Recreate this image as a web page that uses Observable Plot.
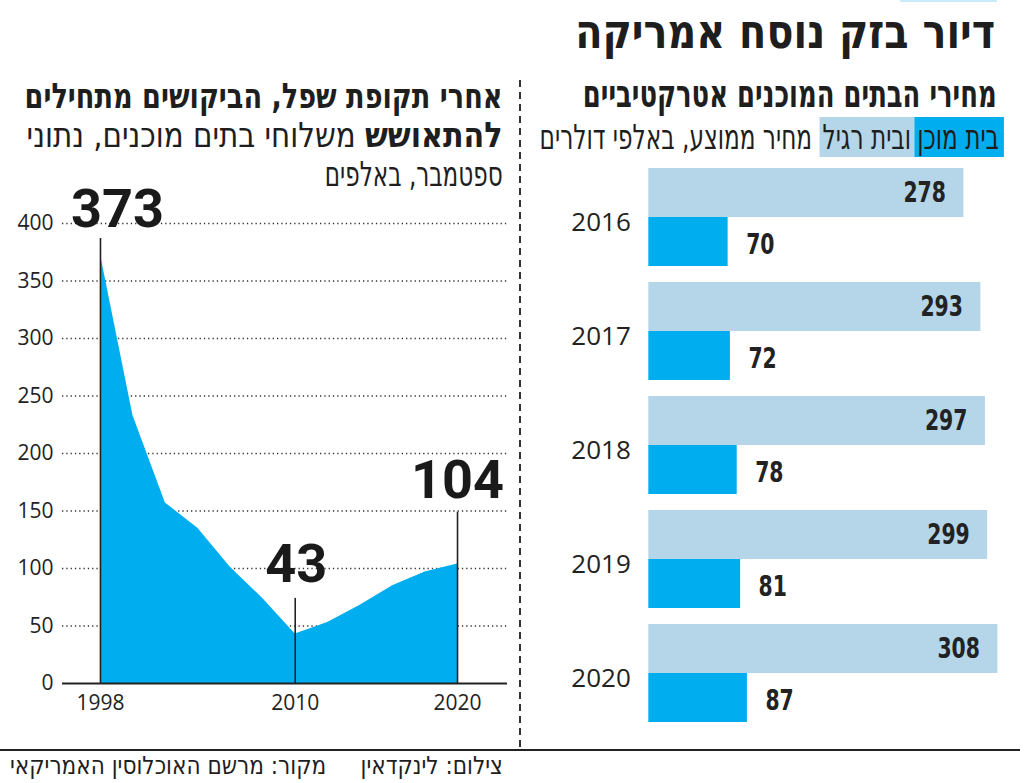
<!DOCTYPE html>
<html lang="he">
<head>
<meta charset="utf-8">
<script src="https://cdn.jsdelivr.net/npm/d3@7"></script>
<script src="https://cdn.jsdelivr.net/npm/@observablehq/plot@0.6"></script>
<style>
  html, body { margin: 0; padding: 0; background: #fff; }
  body { width: 1024px; height: 783px; position: relative; overflow: hidden; }
  .he { font-family: "Liberation Sans Narrow", "DejaVu Sans Condensed", "Liberation Sans", sans-serif; color: #1e1e1e; direction: rtl; position: absolute; white-space: nowrap; text-align: right; transform-origin: right center; }
  .abs { position: absolute; }
  #left, #right { position: absolute; }
  #left svg, #right svg { overflow: visible; }
</style>
</head>
<body>
<div class="abs" style="left:900px;top:0;width:97px;height:2px;background:#c8ecfa"></div>

<div class="he fit" data-w="420" style="right:29px;top:6px;font-size:47px;font-weight:bold;line-height:52px">דיור בזק נוסח אמריקה</div>

<div class="he fit" data-w="414" style="right:27px;top:72px;font-size:38px;font-weight:bold;line-height:44px">מחירי הבתים המוכנים אטרקטיביים</div>
<div class="he fit" data-w="464" style="right:20px;top:117px;font-size:34px;line-height:40px"><span style="background:#00aeef;padding:0 6px 0 4px">בית מוכן</span><span style="background:#b4d6e8;padding:0 4px">ובית רגיל</span> מחיר ממוצע, באלפי דולרים</div>

<div class="he fit" data-w="478" style="right:521px;top:77px;font-size:35px;font-weight:bold;line-height:38px">אחרי תקופת שפל, הביקושים מתחילים</div>
<div class="he fit" data-w="476" style="right:521px;top:116px;font-size:34px;line-height:38px"><b style="font-size:35px">להתאושש</b> משלוחי בתים מוכנים, נתוני</div>
<div class="he fit" data-w="178" style="right:521px;top:155px;font-size:34px;line-height:38px">ספטמבר, באלפים</div>

<div id="left" style="left:0;top:170px"></div>
<div id="right" style="left:540px;top:160px"></div>

<div class="abs" style="left:519px;top:80px;width:2px;height:670px;background:repeating-linear-gradient(to bottom,#333 0 7px,transparent 7px 12px)"></div>
<div class="abs" style="left:0;top:749px;width:1020px;height:2px;background:#222"></div>
<div class="he fit" data-w="493" style="right:521px;top:752px;font-size:25px;line-height:28px">צילום: לינקדאין&nbsp;&nbsp;&nbsp;&nbsp; מקור: מרשם האוכלוסין האמריקאי</div>

<script>
// ---- Left chart data: ready-made home shipments (September, thousands)
const years = [1998, 2000, 2002, 2004, 2006, 2008, 2010, 2012, 2014, 2016, 2018, 2020];
const shipments = [373, 233, 157, 135, 101, 74, 43, 53, 68, 85, 97, 104];
const highlightYears = [1998, 2010, 2020];
const yTicks = [0, 50, 100, 150, 200, 250, 300, 350, 400];
const xTicks = [1998, 2010, 2020];

// ---- Right chart data: average price, thousands of dollars
const barYears = ["2016", "2017", "2018", "2019", "2020"];
const regularPrices = [278, 293, 297, 299, 308];
const readyPrices = [70, 72, 78, 81, 87];
const seriesKeys = ["regular", "ready"];

// ---- styling
const BLUE = "#00aeef";
const LIGHT = "#b4d6e8";
const numFont = "Roboto, 'DejaVu Sans', sans-serif";
const narrowFont = "'Liberation Sans Narrow', 'DejaVu Sans Condensed', sans-serif";
const tickFont = "'Open Sans', 'DejaVu Sans', sans-serif";
const leaderAbove = {1998: 14, 2010: 31, 2020: 45};
const labelAbove = {1998: 24, 2010: 45, 2020: 57};
const labelDx = {1998: 17, 2010: 1, 2020: 0};

const series = years.map((year, i) => ({year, value: shipments[i]}));
const highlights = series.filter(d => highlightYears.includes(d.year));

const left = Plot.plot({
  width: 525,
  height: 550,
  marginLeft: 62,
  marginRight: 18,
  marginTop: 53,
  marginBottom: 37,
  style: {fontFamily: tickFont, fontSize: "21px", color: "#222", background: "transparent"},
  x: {domain: [1995.66, 2023.08], ticks: xTicks, tickFormat: d => String(d), tickSize: 0, tickPadding: 12, label: null},
  y: {domain: [0, 400], ticks: yTicks, tickSize: 0, tickPadding: 9, label: null},
  marks: [
    Plot.ruleY(yTicks.filter(d => d > 0), {stroke: "#333", strokeWidth: 1.3, strokeDasharray: "1.3,3"}),
    Plot.areaY(series, {x: "year", y: "value", fill: BLUE}),
    Plot.ruleY([0], {stroke: "#222", strokeWidth: 2}),
    Plot.ruleX(highlights, {x: "year", y1: 0, y2: d => d.value + leaderAbove[d.year], stroke: "#222", strokeWidth: 1.6}),
    Plot.text(highlights, {
      x: "year", y: d => d.value + labelAbove[d.year], text: d => String(d.value),
      lineAnchor: "bottom", fontSize: 54, fontWeight: "bold", fontFamily: numFont, fill: "#1a1a1a",
      className: "bignum"
    })
  ]
});
left.querySelectorAll(".bignum text").forEach((t, i) => {
  const dx = labelDx[highlights[i].year];
  const tr = t.getAttribute("transform") || "";
  t.setAttribute("transform", tr + ` translate(${dx},0)`);
});
document.getElementById("left").appendChild(left);

const rows = barYears.flatMap((year, i) => [
  {year, type: "regular", value: regularPrices[i]},
  {year, type: "ready", value: readyPrices[i]}
]);

const right = Plot.plot({
  width: 484,
  height: 570,
  marginLeft: 108.3,
  marginRight: 13,
  marginTop: 8,
  marginBottom: 8,
  style: {fontFamily: tickFont, fontSize: "26px", color: "#222", background: "transparent"},
  x: {domain: [0, 320], axis: null},
  y: {domain: seriesKeys, axis: null, paddingInner: 0, paddingOuter: 0},
  fy: {domain: barYears, paddingInner: 0.1426, paddingOuter: 0, label: null},
  color: {domain: seriesKeys, range: [LIGHT, BLUE]},
  marks: [
    Plot.axisFy({anchor: "left", tickSize: 0, tickPadding: 18, dy: 5, fontSize: 26, label: null}),
    Plot.barX(rows, {fy: "year", y: "type", x: "value", fill: "type"}),
    Plot.text(rows.filter(d => d.type === "regular"), {
      fy: "year", y: "type", x: "value", text: d => String(d.value),
      textAnchor: "end", dx: -18, fontSize: 29, fontWeight: "bold", fontFamily: narrowFont, fill: "#222",
      className: "vlab"
    }),
    Plot.text(rows.filter(d => d.type === "ready"), {
      fy: "year", y: "type", x: "value", text: d => String(d.value),
      textAnchor: "start", dx: 18, dy: 3, fontSize: 29, fontWeight: "bold", fontFamily: narrowFont, fill: "#222",
      className: "vlab"
    })
  ]
});
// condense the value labels (narrow bold numerals)
right.querySelectorAll(".vlab text").forEach(t => {
  const tr = t.getAttribute("transform") || "";
  t.setAttribute("transform", tr + " scale(0.78,1)");
});
document.getElementById("right").appendChild(right);

// fit Hebrew text lines to their measured widths (condensed look)
function fit() {
  document.querySelectorAll(".fit").forEach(el => {
    el.style.transform = "none";
    const w = el.getBoundingClientRect().width;
    const target = +el.dataset.w;
    if (w > 0) el.style.transform = `scaleX(${target / w})`;
  });
}
fit();
if (document.fonts && document.fonts.ready) document.fonts.ready.then(fit);
</script>
</body>
</html>
